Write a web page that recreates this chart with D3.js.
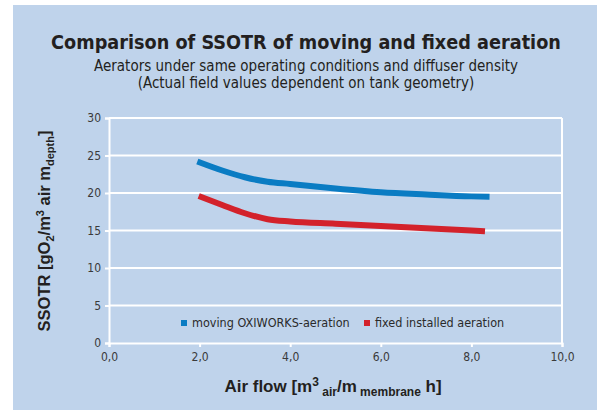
<!DOCTYPE html>
<html><head><meta charset="utf-8">
<script src="https://cdn.jsdelivr.net/npm/d3@7"></script>
<style>
html,body{margin:0;padding:0;background:#fff;}
svg{display:block;}
.cond{font-family:"Liberation Sans Narrow","DejaVu Sans Condensed","Roboto",sans-serif;font-stretch:condensed;}
</style></head>
<body>
<svg id="c" width="597" height="410"></svg>
<script>
const xTicks = [0, 2, 4, 6, 8, 10];
const yTicks = [0, 5, 10, 15, 20, 25, 30];
const seriesNames = ["moving OXIWORKS-aeration", "fixed installed aeration"];
const seriesColors = ["#0a7cc3", "#d3222b"];
const movingX = [1.95, 2.5, 3.0, 3.5, 4.0, 5.0, 6.0, 7.0, 8.0, 8.4];
const movingY = [24.2, 23.0, 22.1, 21.5, 21.2, 20.6, 20.1, 19.8, 19.55, 19.5];
const fixedX = [1.98, 2.5, 3.0, 3.5, 4.0, 5.0, 6.0, 7.0, 8.0, 8.3];
const fixedY = [19.6, 18.4, 17.3, 16.5, 16.2, 15.9, 15.6, 15.3, 15.0, 14.9];

const svg = d3.select("#c");
svg.append("rect").attr("x", 13).attr("y", 5).attr("width", 597 - 13).attr("height", 410 - 5).attr("fill", "#bfd3eb");

const x = d3.scaleLinear().domain([0, 10]).range([109, 562]);
const y = d3.scaleLinear().domain([0, 30]).range([343, 118]);

function fitText(sel, target, maxSize) {
  sel.attr("font-size", maxSize);
  const w = sel.node().getComputedTextLength();
  if (w > 0) sel.attr("font-size", Math.min(maxSize, maxSize * target / w));
}

// Title
fitText(svg.append("text").attr("x", 306).attr("y", 49).attr("text-anchor", "middle")
  .attr("class", "cond").attr("font-weight", "bold").attr("fill", "#231f20")
  .text("Comparison of SSOTR of moving and fixed aeration"), 510, 23);
fitText(svg.append("text").attr("x", 306).attr("y", 71).attr("text-anchor", "middle")
  .attr("class", "cond").attr("fill", "#231f20")
  .text("Aerators under same operating conditions and diffuser density"), 434, 15);
fitText(svg.append("text").attr("x", 306).attr("y", 88).attr("text-anchor", "middle")
  .attr("class", "cond").attr("fill", "#231f20")
  .text("(Actual field values dependent on tank geometry)"), 340, 15);

// gridlines
svg.append("g").selectAll("line").data(yTicks.filter(d => d > 0)).join("line")
  .attr("x1", x(0)).attr("x2", x(10)).attr("y1", d => y(d)).attr("y2", d => y(d))
  .attr("stroke", "#fff").attr("stroke-width", 2);
// right frame line
svg.append("line").attr("x1", x(10)).attr("x2", x(10)).attr("y1", y(30)).attr("y2", y(0))
  .attr("stroke", "#fff").attr("stroke-width", 2);

// axes
const yAxis = svg.append("g").attr("transform", `translate(${x(0)},0)`)
  .call(d3.axisLeft(y).tickValues(yTicks).tickSize(4).tickPadding(4).tickFormat(d3.format("d")));
const xAxis = svg.append("g").attr("transform", `translate(0,${y(0)})`)
  .call(d3.axisBottom(x).tickValues(xTicks).tickSize(4).tickPadding(5).tickFormat(d => d.toFixed(1).replace(".", ",")));
[yAxis, xAxis].forEach(a => {
  a.select(".domain").attr("stroke", "#fff").attr("stroke-width", 2);
  a.selectAll(".tick line").attr("stroke", "#fff").attr("stroke-width", 2);
  a.selectAll(".tick text").attr("class", "cond").attr("font-size", 12).attr("fill", "#3a3a3a");
});

// lines
const line = d3.line().x(d => x(d[0])).y(d => y(d[1])).curve(d3.curveMonotoneX);
const series = [d3.zip(movingX, movingY), d3.zip(fixedX, fixedY)];
svg.append("g").selectAll("path").data(series).join("path")
  .attr("d", line).attr("fill", "none")
  .attr("stroke", (d, i) => seriesColors[i]).attr("stroke-width", 6);

// legend
const legX = [181, 364];
const leg = svg.append("g").selectAll("g").data(seriesNames).join("g")
  .attr("transform", (d, i) => `translate(${legX[i]},320)`);
leg.append("rect").attr("width", 6).attr("height", 6).attr("fill", (d, i) => seriesColors[i]);
leg.append("text").attr("x", 11).attr("y", 6.5).attr("class", "cond").attr("font-size", 12.5)
  .attr("fill", "#2a2a2a").text(d => d);

// axis titles
const yl = svg.append("text").attr("transform", "translate(50,231) rotate(-90)").attr("text-anchor", "middle")
  .attr("font-family", "Liberation Sans, Arial, sans-serif").attr("font-weight", "bold").attr("font-size", 16.5).attr("fill", "#231f20");
yl.append("tspan").text("SSOTR [gO");
yl.append("tspan").attr("font-size", 11).attr("dy", 4).text("2");
yl.append("tspan").attr("dy", -4).text("/m");
yl.append("tspan").attr("font-size", 11).attr("dy", -6).text("3");
yl.append("tspan").attr("dy", 6).text(" air m");
yl.append("tspan").attr("font-size", 11).attr("dy", 4).text("depth");
yl.append("tspan").attr("dy", -4).text("]");

const xl = svg.append("text").attr("x", 333).attr("y", 392).attr("text-anchor", "middle")
  .attr("font-family", "Liberation Sans, Arial, sans-serif").attr("font-weight", "bold").attr("font-size", 17).attr("fill", "#231f20");
xl.append("tspan").text("Air flow [m");
xl.append("tspan").attr("font-size", 12).attr("dy", -6).text("3");
xl.append("tspan").attr("font-size", 12).attr("dy", 10).text(" air");
xl.append("tspan").attr("dy", -4).text("/m");
xl.append("tspan").attr("font-size", 12).attr("dy", 4).text(" membrane");
xl.append("tspan").attr("dy", -4).text(" h]");
</script>
</body></html>
